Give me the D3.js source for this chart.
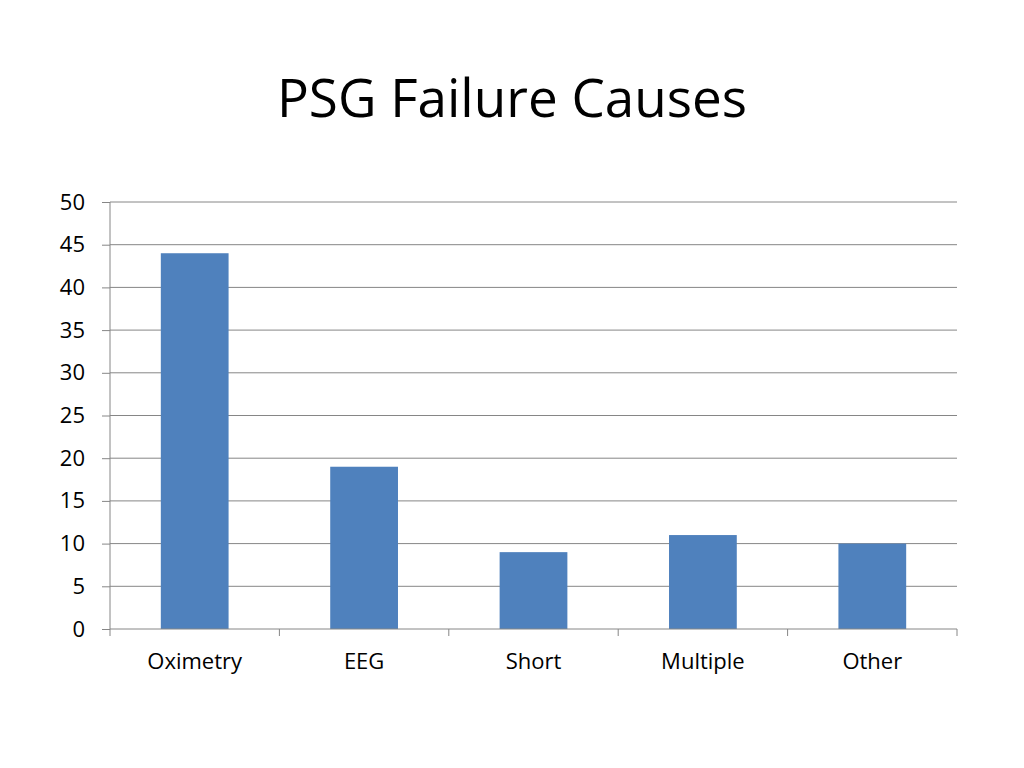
<!DOCTYPE html>
<html lang="en">
<head>
    <meta charset="UTF-8">
    <title>PSG Failure Causes</title>
    <script src="https://cdn.jsdelivr.net/npm/d3@7"></script>
    <style>
        html, body {
            margin: 0;
            padding: 0;
            width: 100%;
            height: 100%;
            overflow: hidden;
            background: #fff;
        }
        text {
            font-family: "Open Sans", Lato, sans-serif;
        }
    </style>
</head>
<body>
</body>
<script>
    let width = 1024;
    let height = 768;

    let categories = ['Oximetry', 'EEG', 'Short', 'Multiple', 'Other'];
    let values = [44, 19, 9, 11, 10];
    let yTicks = [0, 5, 10, 15, 20, 25, 30, 35, 40, 45, 50];

    let margin = {top: 202, right: 67, bottom: 139, left: 110};
    let font = '"Open Sans", Lato, sans-serif';

    let svg = d3.select('body').append('svg')
        .attr('width', width)
        .attr('height', height);

    // 标题
    svg.append('text')
        .attr('x', 512)
        .attr('y', 117)
        .attr('text-anchor', 'middle')
        .attr('font-size', 53)
        .attr('fill', '#000')
        .text('PSG Failure Causes');

    let x = d3.scaleBand()
        .domain(categories)
        .range([margin.left, width - margin.right])
        .paddingInner(0.6)
        .paddingOuter(0.3);

    let y = d3.scaleLinear()
        .domain([0, 50])
        .range([height - margin.bottom, margin.top]);

    // 网格线
    svg.append('g')
        .selectAll('line')
        .data(yTicks.filter(d => d > 0))
        .enter().append('line')
        .attr('x1', margin.left)
        .attr('x2', width - margin.right)
        .attr('y1', d => y(d))
        .attr('y2', d => y(d))
        .attr('stroke', '#868686')
        .attr('stroke-width', 1);

    // 柱子
    svg.append('g')
        .selectAll('rect')
        .data(values)
        .enter().append('rect')
        .attr('x', (d, i) => x(categories[i]))
        .attr('y', d => y(d))
        .attr('width', x.bandwidth())
        .attr('height', d => y(0) - y(d))
        .attr('fill', '#4F81BD');

    // y轴
    let yAxis = d3.axisLeft(y)
        .tickValues(yTicks)
        .tickSize(8)
        .tickPadding(17);

    let gy = svg.append('g')
        .attr('transform', `translate(${margin.left},0)`)
        .call(yAxis);
    gy.select('.domain').attr('stroke', '#868686').attr('d', `M0,${y(0)}V${y(50)}`);
    gy.selectAll('.tick line').attr('stroke', '#868686');
    gy.selectAll('.tick text')
        .attr('font-size', 22)
        .attr('fill', '#000')
        .style('font-family', font);

    // x轴
    let xAxis = d3.axisBottom(x)
        .tickSize(0)
        .tickPadding(24);

    let gx = svg.append('g')
        .attr('transform', `translate(0,${y(0)})`)
        .call(xAxis);
    gx.select('.domain').attr('stroke', '#868686').attr('d', `M${margin.left},0H${width - margin.right}`);
    gx.selectAll('.tick text')
        .attr('font-size', 22)
        .attr('fill', '#000')
        .style('font-family', font);

    // 类别边界刻度
    let step = (width - margin.right - margin.left) / categories.length;
    gx.append('g')
        .selectAll('line')
        .data(d3.range(categories.length + 1))
        .enter().append('line')
        .attr('x1', d => margin.left + d * step)
        .attr('x2', d => margin.left + d * step)
        .attr('y1', 0)
        .attr('y2', 7)
        .attr('stroke', '#868686');
</script>
</html>
